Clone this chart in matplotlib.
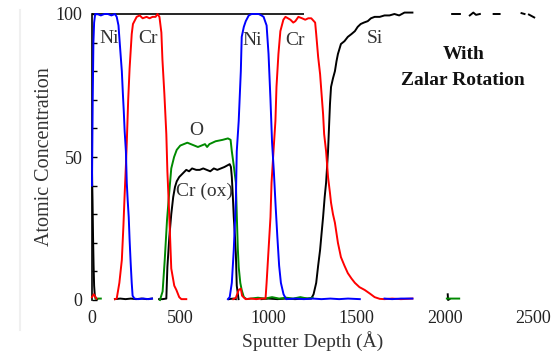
import numpy as np
import matplotlib
matplotlib.use("Agg")
import matplotlib.pyplot as plt
from matplotlib.lines import Line2D

plt.rcParams['font.family'] = ['Liberation Serif', 'DejaVu Serif']

nan = np.nan

# Depth profiles (sputter depth in Angstrom, atomic concentration in %)
ni_depth = [0, 4, 8, 12, 18, 30, 50, 70, 90, 110, 130, 140, 150, 157, 163, 169, 175, 180, 185, 192, 197, 202,
            208, 213, 219, 225, 230, 240, 260, 290, 320, 340,
            nan,
            770, 780, 792, 803, 815, 820, 831, 843, 848, 860, 871, 888, 904, 925, 944, 960, 972, 989, 1000, 1011,
            1020, 1030, 1040, 1050, 1060, 1070, 1085, 1100, 1150, 1200, 1250, 1300, 1350, 1400, 1450, 1517,
            nan,
            1657, 1700, 1750, 1815]
ni_conc = [40, 70, 90, 97, 100, 100, 99.5, 100, 100, 99.5, 100, 99, 96, 90, 85, 80, 72, 66, 59, 52, 41, 35,
           29, 21, 13, 6, 1.5, 0.5, 0.3, 0.5, 0.3, 0.5,
           nan,
           0.3, 1, 6, 17.5, 35, 52, 62.6, 80, 92, 95.5, 97.5, 99.5, 100, 100, 100, 99.5, 99, 96, 86, 70,
           55, 45, 33, 22, 12, 6, 2, 0.3, 0.5, 0.3, 0.5, 0.3, 0.5, 0.3, 0.5, 0.3,
           nan,
           0.5, 0.3, 0.5, 0.5]

cr_depth = [0, 10, 25,
            nan,
            130, 140, 155, 169, 178, 185, 192, 197, 205, 213, 225, 232, 253, 270, 287, 309, 326, 343, 360, 371,
            382, 393, 399, 410, 421, 427, 438, 449, 466, 478, 494, 506, 534,
            nan,
            800, 815, 825, 831, 843, 850, 870, 900, 930, 960, 983, 989, 1000, 1011, 1017, 1028, 1039, 1045, 1056,
            1067, 1084, 1096, 1110, 1124, 1140, 1152, 1169, 1190, 1208, 1225, 1242, 1264, 1270, 1281, 1292, 1298,
            1309, 1315, 1326, 1337, 1348, 1354, 1365, 1376, 1393, 1410, 1430, 1449, 1470, 1489, 1515, 1545, 1575,
            1601, 1630, 1657, 1700, 1750, 1815]
cr_conc = [1, 2, 0.5,
           nan,
           0.3, 0.5, 6, 14, 26, 37, 47, 55, 70, 81, 93, 96.5, 99, 99.5, 98.5, 99, 98.5, 99, 99, 100,
           99, 93.5, 84, 72, 58, 45, 29, 11, 5, 3.5, 1, 0.3, 0.3,
           nan,
           0.3, 0.8, 2.5, 3.5, 4, 1.5, 0.3, 0.5, 0.3, 0.5, 0.5, 6, 17.5, 29, 41, 52, 62.6, 74.5, 86,
           94, 98, 99, 98.5, 98, 97, 97.5, 99, 98.5, 98, 98.5, 98.5, 97, 93, 85, 79, 74,
           65, 58, 52, 43, 37.4, 34, 30, 27, 20, 15, 12, 9.4, 7.5, 6, 4.5, 3.5, 2.2,
           1, 0.4, 0.3, 0.5, 0.3, 0.5]

o_depth = [20, 50,
           nan,
           385, 400, 412, 425, 438, 449, 465, 480, 500, 520, 540, 560, 580, 600, 620, 640, 652, 665, 700, 740,
           770, 785, 792, 803, 815, 820, 826, 831, 840, 848, 860, 876, 900, 940, 980, 1020, 1060, 1100, 1140,
           1180, 1220, 1250,
           nan,
           2010, 2080]
o_conc = [0.5, 0.5,
          nan,
          0, 3, 14, 28, 38, 46, 50, 52.5, 54, 54.5, 55, 54.5, 54, 53.5, 54, 54.5, 53.5, 54.5, 55.5, 56,
          56.5, 56, 52, 47, 41, 30, 18, 11.5, 6, 3.5, 1, 0.3, 0.5, 0.8, 0.5, 1, 0.5, 0.8, 0.5,
          1, 0.5, 0.8,
          nan,
          0.5, 0.5]

crox_depth = [0, 3, 6, 9, 12, 16, 22, 30,
              nan,
              130, 160, 190, 220, 250, 280, 310, 340,
              nan,
              380, 400, 421, 427, 438, 449, 460, 470, 480, 494, 510, 534, 550, 567, 590, 610, 630, 650, 670,
              690, 710, 730, 750, 765, 780, 787, 792, 798, 803, 810, 815, 820, 830]
crox_conc = [45, 35, 22, 12, 5, 1.5, 0.5, 0.3,
             nan,
             0.3, 0.5, 0.3, 0.5, 0.3, 0.5, 0.3, 0.5,
             nan,
             0.3, 0.3, 0.5, 11.5, 22, 30, 36, 39.5, 41.5, 43, 44, 45.5, 45, 46, 45.5, 45.5, 46, 45.5, 45,
             46, 45.5, 46, 46.5, 47, 47.5, 46.5, 43, 36, 29, 22, 16, 5, 0.3]

si_depth = [775, 800, 815,
            nan,
            960, 1000, 1050, 1100, 1150, 1200, 1242, 1255, 1270, 1281, 1292, 1300, 1309, 1318, 1326, 1332, 1337,
            1343, 1348, 1354, 1365, 1376, 1385, 1393, 1410, 1430, 1449, 1470, 1489, 1505, 1522, 1540, 1562,
            1580, 1601, 1630, 1657, 1685, 1713, 1740, 1770, 1815,
            nan,
            2015, 2017, 2025,
            nan,
            2040, 2084,
            nan,
            2140, 2160, 2175, 2197,
            nan,
            2275, 2309,
            nan,
            2433, 2450,
            nan,
            2475, 2505]
si_conc = [0.3, 0.5, 0.3,
           nan,
           0.3, 0.5, 0.3, 0.5, 0.3, 0.5, 0.5, 2, 6, 12, 17.5, 23, 29, 36, 41, 47, 52,
           61, 68.5, 74.5, 77.5, 80, 83.5, 86, 89.5, 90.5, 92, 93, 94, 95.5, 96.5, 97, 97.5,
           98.5, 99, 99, 99.5, 99.5, 100, 99.5, 100.5, 100.5,
           nan,
           2, 0, 0.3,
           nan,
           100, 100,
           nan,
           99.5, 100.5, 99.7, 100,
           nan,
           100, 100,
           nan,
           100.3, 100,
           nan,
           99.8, 98.8]

x_ticks = [0, 500, 1000, 1500, 2000, 2500]
y_ticks = [0, 50, 100]
frame_top_end = 1200

fig = plt.figure(figsize=(5.52, 3.51), dpi=100)
W, H = 552, 351
ax = fig.add_axes([92 / W, 51 / H, 459 / W, 286 / H])
ax.set_xlim(0, 2600)
ax.set_ylim(0, 100)

lw = 1.4
ax.plot(crox_depth, crox_conc, color='black', lw=lw, clip_on=False, zorder=3)
ax.plot(si_depth, si_conc, color='black', lw=lw, clip_on=False, zorder=3)
ax.plot(o_depth, o_conc, color='#008a00', lw=lw, clip_on=False, zorder=4)
ax.plot(cr_depth, cr_conc, color='#ff0000', lw=lw, clip_on=False, zorder=5)
ax.plot(ni_depth, ni_conc, color='#0000ff', lw=lw, clip_on=False, zorder=6)

# partial top frame
ax.hlines(100, 0, frame_top_end, color='black', lw=1.2, clip_on=False, zorder=2)

for s in ('top', 'right', 'bottom'):
    ax.spines[s].set_visible(False)
ax.spines['left'].set_linewidth(1.2)
ax.spines['left'].set_color('black')

ax.set_xticks(x_ticks)
ax.set_xticklabels([str(v) for v in x_ticks])
ax.set_yticks(y_ticks)
ax.set_yticklabels([str(v) for v in y_ticks])
ax.set_yticks(np.arange(0, 101, 10), minor=True)
ax.tick_params(axis='x', length=0, pad=7, labelsize=13, colors='#222222')
ax.tick_params(axis='y', which='both', direction='in', length=3.5, width=1.0,
               pad=7, labelsize=13, colors='black', labelcolor='#222222')

txt = dict(fontsize=14, color='#333333', ha='center', va='center')
ax.text(95, 91.6, 'Ni', **txt)
ax.text(315, 91.6, 'Cr', **txt)
ax.text(906, 90.6, 'Ni', **txt)
ax.text(1151, 90.6, 'Cr', **txt)
ax.text(1601, 91.6, 'Si', **txt)
ax.text(590, 59.4, 'O', **txt)
ax.text(635, 38.0, 'Cr (ox)', **txt)
ax.text(2107, 85.7, 'With', fontsize=14, fontweight='bold', color='#111111', ha='center', va='center')
ax.text(2101, 76.6, 'Zalar Rotation', fontsize=14, fontweight='bold', color='#111111', ha='center', va='center')

fig.text(45 / W, 1 - 157 / H, 'Atomic Concentration', rotation=90, fontsize=14.5,
         color='#333333', ha='center', va='center')
fig.text(313 / W, 1 - 341 / H, 'Sputter Depth (Å)', fontsize=14,
         color='#333333', ha='center', va='center')

fig.add_artist(Line2D([20 / W, 20 / W], [1 - 10 / H, 1 - 330 / H], color='#f0f0f0', lw=1.5))

fig.savefig('out.png', dpi=100)
